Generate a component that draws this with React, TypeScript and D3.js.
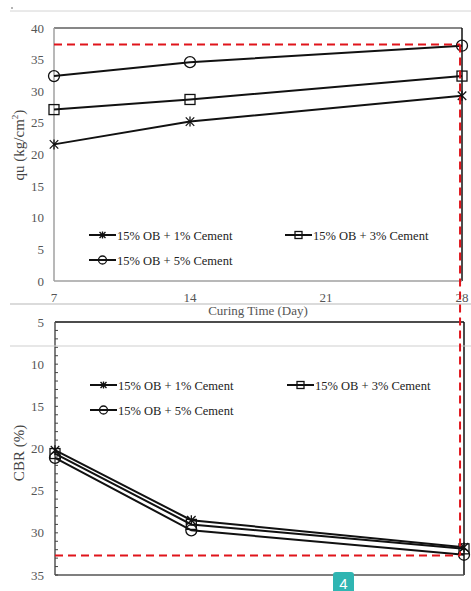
import React from 'react';
import * as d3 from 'd3';

// curing days and series
const days = [7, 14, 28];
const seriesNames = ['15% OB + 1% Cement', '15% OB + 3% Cement', '15% OB + 5% Cement'];
const markers = ['star', 'square', 'circle'];

// unconfined compressive strength qu (kg/cm2)
const qu1 = [21.6, 25.2, 29.3];
const qu3 = [27.1, 28.7, 32.4];
const qu5 = [32.4, 34.6, 37.2];

// CBR (%)
const cbr1 = [20.2, 28.5, 31.7];
const cbr3 = [20.6, 29.0, 31.9];
const cbr5 = [21.1, 29.7, 32.6];

// red reference lines
const quRef = 37.4;
const cbrRef = 32.7;
const dayRef = 27.9;

const quTicks = [0, 5, 10, 15, 20, 25, 30, 35, 40];
const cbrTicks = [5, 10, 15, 20, 25, 30, 35];
const dayTicks = [7, 14, 21, 28];

const FONT = '"Liberation Serif", "Times New Roman", serif';
const RED = '#e0141b';

function Marker({ type, x, y, r = 5 }: { type: string; x: number; y: number; r?: number }) {
  if (type === 'circle')
    return <circle cx={x} cy={y} r={r + 0.5} fill="none" stroke="#111" strokeWidth={1.3} />;
  if (type === 'square')
    return <rect x={x - r} y={y - r} width={2 * r} height={2 * r} fill="none" stroke="#111" strokeWidth={1.3} />;
  const d = r * 0.85;
  return (
    <g stroke="#111" strokeWidth={1.3}>
      <line x1={x - d} y1={y - d} x2={x + d} y2={y + d} />
      <line x1={x - d} y1={y + d} x2={x + d} y2={y - d} />
      <line x1={x} y1={y - r} x2={x} y2={y + r} />
    </g>
  );
}

function Legend({ x, y, name, type }: { x: number; y: number; name: string; type: string }) {
  return (
    <g>
      <line x1={x} y1={y} x2={x + 27} y2={y} stroke="#111" strokeWidth={2} />
      <Marker type={type} x={x + 13.5} y={y} r={3.5} />
      <text x={x + 28} y={y + 4.5} fontFamily={FONT} fontSize={12.5} fill="#222">{name}</text>
    </g>
  );
}

export default function App() {
  const xTop = d3.scaleLinear().domain([7, 28]).range([54, 462]);
  const yTop = d3.scaleLinear().domain([0, 40]).range([281, 28]);
  const xBot = d3.scaleLinear().domain([7, 28]).range([55, 464]);
  const yBot = d3.scaleLinear().domain([5, 35]).range([322, 575]);

  const quSeries = [qu1, qu3, qu5];
  const cbrSeries = [cbr1, cbr3, cbr5];

  const lineTop = d3.line<number>().x((_, i) => xTop(days[i])).y(v => yTop(v));
  const lineBot = d3.line<number>().x((_, i) => xBot(days[i])).y(v => yBot(v));

  const minor = d3.range(5, 36, 1);

  return (
    <svg width={471} height={591} style={{ position: 'absolute', left: 0, top: 0, background: '#fff' }}>
      {/* page artefacts */}
      <line x1={10} y1={11} x2={471} y2={11} stroke="#d4d4d4" strokeWidth={1} />
      <circle cx={12} cy={8} r={0.8} fill="#555" />

      {/* ---------- top chart ---------- */}
      <line x1={xTop(7)} y1={yTop(40)} x2={xTop(28)} y2={yTop(40)} stroke="#111" strokeWidth={1.2} />
      <line x1={xTop(28)} y1={yTop(40)} x2={xTop(28)} y2={yTop(0)} stroke="#111" strokeWidth={1.5} />
      <line x1={xTop(7)} y1={yTop(40)} x2={xTop(7)} y2={yTop(0)} stroke="#a0a0a0" strokeWidth={1.5} />
      <line x1={xTop(7)} y1={yTop(0)} x2={xTop(28)} y2={yTop(0)} stroke="#a0a0a0" strokeWidth={1.5} />
      {quTicks.map(t => (
        <text key={t} x={44} y={yTop(t) + 4.5} textAnchor="end" fontFamily={FONT} fontSize={13} fill="#555">{t}</text>
      ))}
      {dayTicks.map(t => (
        <text key={t} x={xTop(t)} y={302} textAnchor="middle" fontFamily={FONT} fontSize={13} fill="#555">{t}</text>
      ))}
      <text x={258} y={315} textAnchor="middle" fontFamily={FONT} fontSize={13} fill="#555">Curing Time (Day)</text>
      <text transform={`translate(24,145) rotate(-90)`} textAnchor="middle" fontFamily={FONT} fontSize={15} fill="#444">
        qu (kg/cm<tspan dy={-6} fontSize={9}>2</tspan><tspan dy={6}>)</tspan>
      </text>

      {quSeries.map((s, k) => (
        <g key={k}>
          <path d={lineTop(s) || ''} fill="none" stroke="#111" strokeWidth={2} />
          {s.map((v, i) => <Marker key={i} type={markers[k]} x={xTop(days[i])} y={yTop(v)} />)}
        </g>
      ))}

      <Legend x={89} y={235} name={seriesNames[0]} type={markers[0]} />
      <Legend x={285} y={235} name={seriesNames[1]} type={markers[1]} />
      <Legend x={89} y={260} name={seriesNames[2]} type={markers[2]} />

      <line x1={10} y1={304} x2={471} y2={304} stroke="#b8b8b8" strokeWidth={1.2} />

      {/* ---------- bottom chart ---------- */}
      <line x1={xBot(7)} y1={yBot(5)} x2={xBot(28)} y2={yBot(5)} stroke="#111" strokeWidth={1.5} />
      <line x1={xBot(28)} y1={yBot(5)} x2={xBot(28)} y2={yBot(35)} stroke="#111" strokeWidth={1.5} />
      <line x1={xBot(7)} y1={yBot(5)} x2={xBot(7)} y2={yBot(35)} stroke="#555" strokeWidth={1.5} />
      <line x1={xBot(7)} y1={yBot(35)} x2={xBot(28)} y2={yBot(35)} stroke="#555" strokeWidth={1.5} />
      {minor.map(t => (
        <line key={t} x1={xBot(7)} y1={yBot(t)} x2={xBot(7) + 3} y2={yBot(t)} stroke="#444" strokeWidth={1} />
      ))}
      {cbrTicks.map(t => (
        <text key={t} x={44} y={yBot(t) + 4.5} textAnchor="end" fontFamily={FONT} fontSize={13} fill="#555">{t}</text>
      ))}
      <text transform={`translate(24,453) rotate(-90)`} textAnchor="middle" fontFamily={FONT} fontSize={15} fill="#444">CBR (%)</text>

      <line x1={10} y1={346} x2={471} y2={346} stroke="#cfcfcf" strokeWidth={1} />

      {cbrSeries.map((s, k) => (
        <g key={k}>
          <path d={lineBot(s) || ''} fill="none" stroke="#111" strokeWidth={2} />
          {s.map((v, i) => <Marker key={i} type={markers[k]} x={xBot(days[i])} y={yBot(v)} />)}
        </g>
      ))}

      <Legend x={90} y={385} name={seriesNames[0]} type={markers[0]} />
      <Legend x={287} y={385} name={seriesNames[1]} type={markers[1]} />
      <Legend x={90} y={410} name={seriesNames[2]} type={markers[2]} />

      {/* red reference lines */}
      <g stroke={RED} strokeWidth={2} strokeDasharray="8,5" fill="none">
        <line x1={xTop(7)} y1={yTop(quRef)} x2={xTop(dayRef)} y2={yTop(quRef)} />
        <line x1={xTop(dayRef)} y1={yTop(quRef)} x2={xTop(dayRef)} y2={yBot(cbrRef)} />
        <line x1={xBot(7)} y1={yBot(cbrRef)} x2={xTop(dayRef)} y2={yBot(cbrRef)} />
      </g>

      {/* page badge */}
      <path d="M333,591 V575 Q333,572 336,572 H351 Q354,572 354,575 V591 Z" fill="#2fb5b2" />
      <text x={343.5} y={589} textAnchor="middle" fontFamily="Arial, sans-serif" fontSize={15} fill="#fff">4</text>
    </svg>
  );
}
